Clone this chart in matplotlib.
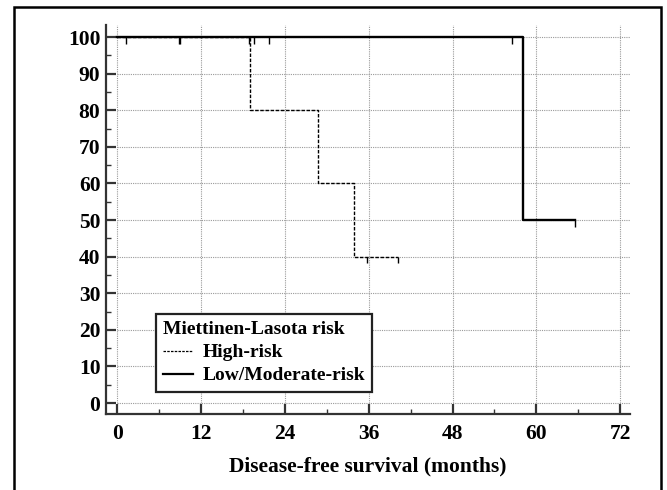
import matplotlib
matplotlib.use("Agg")
import matplotlib.pyplot as plt
from matplotlib.lines import Line2D
from matplotlib.patches import Rectangle

plt.rcParams["font.family"] = ["Liberation Serif", "DejaVu Serif"]
plt.rcParams["font.weight"] = "bold"

# Kaplan-Meier step data (months, % disease-free)
high_times = [0, 19.0, 28.8, 33.9]
high_surv = [100, 80, 60, 40]
high_end = 40.2
high_cens_t = [35.8, 40.2]
high_cens_s = [40, 40]

low_times = [0, 58.1]
low_surv = [100, 50]
low_end = 65.5
low_cens_t = [1.3, 8.8, 9.0, 18.8, 19.6, 21.8, 56.5, 65.5]
low_cens_s = [100, 100, 100, 100, 100, 100, 100, 50]

x_ticks = [0, 12, 24, 36, 48, 60, 72]
y_ticks = [0, 10, 20, 30, 40, 50, 60, 70, 80, 90, 100]

fig = plt.figure(figsize=(6.67, 4.9), dpi=100)
ax = fig.add_axes([106 / 667, 76 / 490, 524 / 667, 389 / 490])

XMIN, XMAX = -1.6, 73.4
YMIN, YMAX = -3.0, 103.3
ax.set_xlim(XMIN, XMAX)
ax.set_ylim(YMIN, YMAX)

# dotted grid starting at the data origin
ax.hlines(y_ticks, 0, XMAX, colors="#9a9a9a", linestyles=(0, (1, 1)), lw=0.8, zorder=1)
ax.vlines(x_ticks, 0, YMAX, colors="#9a9a9a", linestyles=(0, (1, 1)), lw=0.8, zorder=1)

# step curves
ax.step(high_times + [high_end], high_surv + [high_surv[-1]], where="post",
        color="black", lw=1.0, ls=(0, (2.5, 1.2)), zorder=3)
ax.step(low_times + [low_end], low_surv + [low_surv[-1]], where="post",
        color="black", lw=1.7, zorder=4)

# censor marks hang below the curve
tick_len = 1.8
ax.vlines(high_cens_t, [s - tick_len for s in high_cens_s], high_cens_s,
          colors="black", lw=1.0, zorder=3)
ax.vlines(low_cens_t, [s - tick_len for s in low_cens_s], low_cens_s,
          colors="black", lw=1.0, zorder=4)

# axes styling
for side in ["top", "right"]:
    ax.spines[side].set_visible(False)
for side in ["left", "bottom"]:
    ax.spines[side].set_linewidth(1.6)
    ax.spines[side].set_color("#333333")

ax.set_xticks(x_ticks)
ax.set_yticks(y_ticks)
ax.set_xticks([6, 18, 30, 42, 54, 66], minor=True)
ax.set_yticks([5, 15, 25, 35, 45, 55, 65, 75, 85, 95], minor=True)
ax.tick_params(which="major", direction="in", length=7.5, width=1.6,
               color="#333333", labelsize=15.5)
ax.tick_params(which="minor", direction="in", length=3.8, width=1.0,
               color="#333333")
ax.tick_params(axis="x", which="major", pad=7)
ax.tick_params(axis="y", which="major", pad=4)
for lab in ax.get_xticklabels() + ax.get_yticklabels():
    lab.set_fontweight("bold")

ax.set_xlabel("Disease-free survival (months)", fontsize=15.5, fontweight="bold",
              labelpad=9)

handles = [
    Line2D([], [], color="black", lw=0.9, ls=(0, (2, 1))),
    Line2D([], [], color="black", lw=1.6),
]
leg = ax.legend(handles, ["High-risk", "Low/Moderate-risk"],
                title="Miettinen-Lasota risk", loc="upper left",
                bbox_to_anchor=(156 / 667, 1 - 314 / 490),
                bbox_transform=fig.transFigure, borderaxespad=0,
                fontsize=14, title_fontsize=14, handlelength=1.5,
                handletextpad=0.5, labelspacing=0.28, borderpad=0.38,
                fancybox=False, framealpha=1, edgecolor="#222222")
leg._legend_box.align = "left"
leg.get_title().set_fontweight("bold")
for t in leg.get_texts():
    t.set_fontweight("bold")
leg.get_frame().set_linewidth(1.6)
leg.set_zorder(6)

# outer frame around the whole picture
fig.patches.append(Rectangle((14 / 667, -0.05), 647 / 667, 1.05 - 7 / 490,
                             transform=fig.transFigure, fill=False,
                             ec="black", lw=1.8))

fig.savefig("out.png", dpi=100)
